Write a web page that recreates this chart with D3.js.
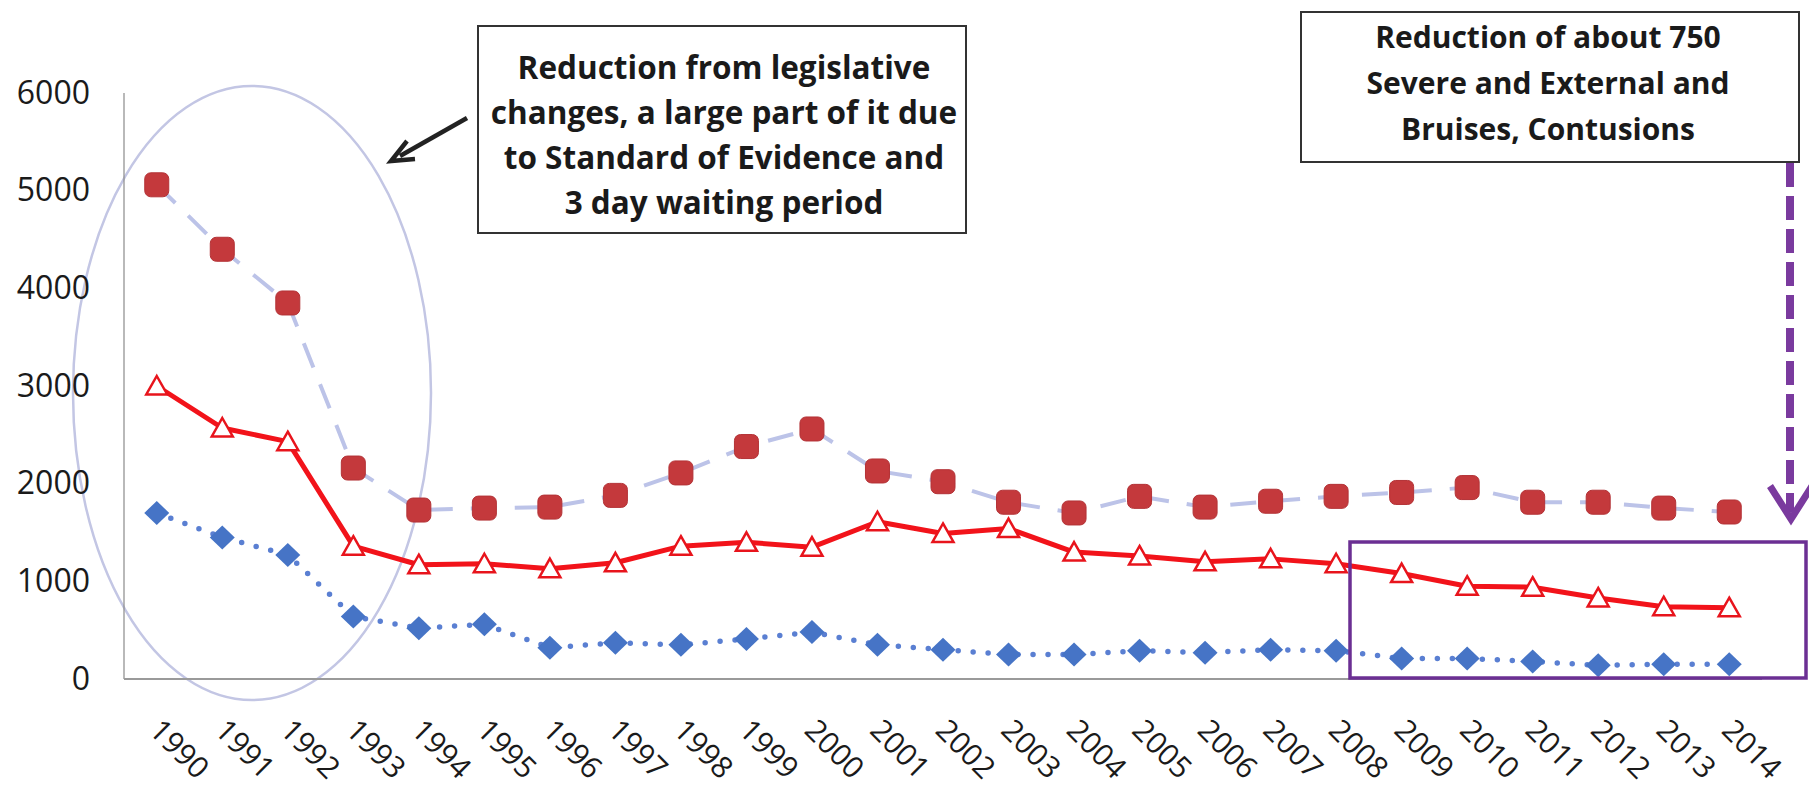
<!doctype html>
<html lang="en">
  <head>
    <meta charset="utf-8">
    <title>Reduction chart</title>
    <style>
      body {
        margin: 0;
        background: #fff;
        font-family: 'Open Sans', sans-serif;
      }
      .axis .domain {
        display: none;
      }
      .note {
        font-family: 'Open Sans', sans-serif;
        font-weight: bold;
        fill: #1a1a1a;
      }
    </style>
  </head>
<body>
  <svg width="1809" height="788"></svg>
  <script src="https://d3js.org/d3.v7.min.js"></script>
  <script>
  // data
  var years = ["1990", "1991", "1992", "1993", "1994", "1995", "1996", "1997", "1998", "1999",
               "2000", "2001", "2002", "2003", "2004", "2005", "2006", "2007", "2008", "2009",
               "2010", "2011", "2012", "2013", "2014"];

  // red rounded squares, light dashed line
  var upperValues = [5060, 4400, 3850, 2160, 1730, 1750, 1760, 1880, 2110, 2380,
                     2560, 2130, 2020, 1810, 1700, 1870, 1760, 1820, 1870, 1910,
                     1960, 1810, 1810, 1750, 1710];

  // red open triangles, solid red line
  var middleValues = [3000, 2570, 2430, 1360, 1170, 1180, 1130, 1190, 1360, 1400,
                      1350, 1610, 1490, 1540, 1300, 1260, 1200, 1230, 1180, 1080,
                      950, 940, 830, 740, 730];

  // blue diamonds, dotted line
  var lowerValues = [1700, 1450, 1270, 640, 520, 560, 320, 370, 350, 410,
                     480, 350, 300, 250, 250, 290, 270, 300, 290, 210,
                     210, 180, 140, 150, 150];

  var yTicks = [0, 1000, 2000, 3000, 4000, 5000, 6000];

  var leftNote = ["Reduction from legislative", "changes, a large part of it due",
                  "to Standard of Evidence and", "3 day waiting period"];
  var rightNote = ["Reduction of about 750", "Severe and External and", "Bruises, Contusions"];

  var svg = d3.select("svg"),
      plotLeft = 124, plotRight = 1762, plotTop = 93, plotBottom = 679;

  var x = d3.scaleBand().domain(years).range([plotLeft, plotRight]);
  var bw = x.bandwidth();
  var cx = function(i) { return x(years[i]) + bw / 2; };

  var y = d3.scaleLinear().domain([0, 6000]).range([plotBottom, plotTop]);

  // ellipse round the first years
  svg.append("ellipse")
      .attr("cx", 252).attr("cy", 393)
      .attr("rx", 179).attr("ry", 307)
      .attr("fill", "none")
      .attr("stroke", "#c3c6e4")
      .attr("stroke-width", 2.5);

  // axes
  svg.append("line")
      .attr("x1", plotLeft).attr("x2", plotLeft)
      .attr("y1", y(6000)).attr("y2", plotBottom)
      .attr("stroke", "#8a8a8a").attr("stroke-width", 1.2);
  svg.append("line")
      .attr("x1", plotLeft).attr("x2", plotRight)
      .attr("y1", plotBottom).attr("y2", plotBottom)
      .attr("stroke", "#9a9a9a").attr("stroke-width", 2);

  svg.append("g")
      .attr("class", "axis")
      .attr("transform", "translate(" + (plotLeft - 34) + ",0)")
      .call(d3.axisLeft(y).tickValues(yTicks).tickFormat(d3.format("d")).tickSize(0).tickPadding(0))
    .selectAll("text")
      .attr("font-family", "'Open Sans', sans-serif")
      .attr("font-size", 32)
      .attr("fill", "#1a1a1a");

  var xAxis = svg.append("g")
      .attr("class", "axis")
      .attr("transform", "translate(0," + plotBottom + ")")
      .call(d3.axisBottom(x).tickSize(0));
  xAxis.selectAll("text")
      .attr("font-family", "'Open Sans', sans-serif")
      .attr("font-size", 30)
      .attr("fill", "#1a1a1a")
      .attr("text-anchor", "start")
      .attr("dy", 0)
      .attr("y", 0)
      .attr("transform", "translate(-9,53) rotate(45)");

  // series lines
  var line = d3.line()
      .x(function(d, i) { return cx(i); })
      .y(function(d) { return y(d); });

  svg.append("path")
      .datum(upperValues)
      .attr("d", line)
      .attr("fill", "none")
      .attr("stroke", "#bcc3e8")
      .attr("stroke-width", 4)
      .attr("stroke-dasharray", "26,18");

  svg.append("path")
      .datum(lowerValues)
      .attr("d", line)
      .attr("fill", "none")
      .attr("stroke", "#5a7fd2")
      .attr("stroke-width", 5.5)
      .attr("stroke-linecap", "round")
      .attr("stroke-dasharray", "0,15");

  svg.append("path")
      .datum(middleValues)
      .attr("d", line)
      .attr("fill", "none")
      .attr("stroke", "#f2131a")
      .attr("stroke-width", 5)
      .attr("stroke-linejoin", "round");

  // markers
  svg.append("g").selectAll("rect")
      .data(upperValues)
      .enter().append("rect")
        .attr("x", function(d, i) { return cx(i) - 12; })
        .attr("y", function(d) { return y(d) - 12; })
        .attr("width", 24).attr("height", 24)
        .attr("rx", 6)
        .attr("fill", "#c4393c")
        .attr("stroke", "#b33236")
        .attr("stroke-width", 1);

  svg.append("g").selectAll("path")
      .data(middleValues)
      .enter().append("path")
        .attr("transform", function(d, i) { return "translate(" + cx(i) + "," + y(d) + ")"; })
        .attr("d", "M0,-10L10.5,8.5L-10.5,8.5Z")
        .attr("fill", "#fff")
        .attr("stroke", "#e8141c")
        .attr("stroke-width", 2.5);

  svg.append("g").selectAll("path")
      .data(lowerValues)
      .enter().append("path")
        .attr("transform", function(d, i) { return "translate(" + cx(i) + "," + y(d) + ")"; })
        .attr("d", "M0,-12L12.5,0L0,12L-12.5,0Z")
        .attr("fill", "#4674c6");

  // left note box and arrow
  svg.append("rect")
      .attr("x", 478).attr("y", 26)
      .attr("width", 488).attr("height", 207)
      .attr("fill", "#fff")
      .attr("stroke", "#333")
      .attr("stroke-width", 2);

  svg.append("g").selectAll("text")
      .data(leftNote)
      .enter().append("text")
        .attr("class", "note")
        .attr("font-size", 31.5)
        .attr("x", 724)
        .attr("y", function(d, i) { return 79 + i * 45; })
        .attr("text-anchor", "middle")
        .text(function(d) { return d; });

  svg.append("line")
      .attr("x1", 467).attr("y1", 118)
      .attr("x2", 400).attr("y2", 156)
      .attr("stroke", "#222").attr("stroke-width", 4.5);
  svg.append("path")
      .attr("d", "M407,141L391,161L415,159")
      .attr("fill", "none")
      .attr("stroke", "#222").attr("stroke-width", 4.5)
      .attr("stroke-linejoin", "miter");

  // right note box
  svg.append("rect")
      .attr("x", 1301).attr("y", 12)
      .attr("width", 498).attr("height", 150)
      .attr("fill", "#fff")
      .attr("stroke", "#333")
      .attr("stroke-width", 2);

  svg.append("g").selectAll("text")
      .data(rightNote)
      .enter().append("text")
        .attr("class", "note")
        .attr("font-size", 30)
        .attr("x", 1548)
        .attr("y", function(d, i) { return 48 + i * 46; })
        .attr("text-anchor", "middle")
        .text(function(d) { return d; });

  // purple dashed arrow and box round the last years
  svg.append("line")
      .attr("x1", 1790).attr("y1", 163)
      .attr("x2", 1790).attr("y2", 512)
      .attr("stroke", "#7a3a9e").attr("stroke-width", 8)
      .attr("stroke-dasharray", "24,9");
  svg.append("path")
      .attr("d", "M1770,486L1791,519L1812,486")
      .attr("fill", "none")
      .attr("stroke", "#7a3a9e").attr("stroke-width", 7);

  svg.append("rect")
      .attr("x", 1350).attr("y", 542)
      .attr("width", 456).attr("height", 136)
      .attr("fill", "none")
      .attr("stroke", "#6b2f93")
      .attr("stroke-width", 3.5);
  </script>
</body>
</html>
